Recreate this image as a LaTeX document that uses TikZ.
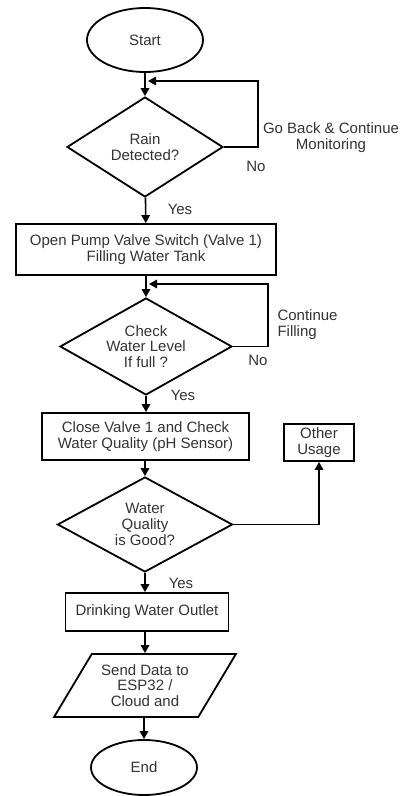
\documentclass[tikz,border=0pt]{standalone}
\usepackage{fontspec}
\setmainfont{Liberation Sans}
\usetikzlibrary{shapes.geometric,arrows.meta}
\begin{document}
\begin{tikzpicture}[x=1pt,y=-1pt,
  every node/.style={font=\fontsize{15}{15.8}\selectfont, text=black!80},
  shp/.style={draw=black, line width=1.8pt, inner sep=0pt, align=center},
  term/.style={shp, ellipse},
  proc/.style={shp, rectangle},
  dec/.style={shp, diamond, aspect=1.8},
  io/.style={shp, trapezium, trapezium left angle=54, trapezium right angle=126, trapezium stretches=true},
  arr/.style={line width=1.6pt, -{Triangle[length=8pt,width=8.5pt]}},
  lbl/.style={align=center}
]
\useasboundingbox (0,0) rectangle (406,796);

\node[term, minimum width=116pt, minimum height=64pt] (start) at (145,40) {Start};
\node[dec, minimum width=156pt, minimum height=100pt] (d1) at (145,147) {Rain\\Detected?};
\node[proc, minimum width=260pt, minimum height=51pt] (b1) at (146,249.5) {Open Pump Valve Switch (Valve 1)\\Filling Water Tank};
\node[dec, minimum width=172pt, minimum height=97pt] (d2) at (146,346.5) {Check\\Water Level\\If full ?};
\node[proc, minimum width=207pt, minimum height=47pt] (b2) at (145.5,436.5) {Close Valve 1 and Check\\Water Quality (pH Sensor)};
\node[proc, minimum width=70pt, minimum height=37pt] (other) at (319,442.5) {Other\\Usage};
\node[dec, minimum width=175pt, minimum height=95pt] (d3) at (145,524.5) {Water\\Quality\\is Good?};
\node[proc, minimum width=163pt, minimum height=38pt] (b3) at (147,612) {Drinking Water Outlet};
\node[io, minimum width=182pt, minimum height=63pt] (io) at (145,685.5) {Send Data to\\ESP32 /\\Cloud and};
\node[term, minimum width=106pt, minimum height=55pt] (end) at (144,767.5) {End};

\coordinate (j1) at (148,81);
\coordinate (j2) at (149,284);

\draw[arr] (start) -- (d1);
\draw[arr] (d1.east) -- ++(34,0) |- (j1);
\draw[arr] (d1) -- (b1);
\draw[arr] (b1.south -| d2.north) -- (d2);
\draw[arr] (d2.east) -- ++(35,0) |- (j2);
\draw[arr] (d2.south) -- (d2.south |- b2.north);
\draw[arr] (b2.south -| d3.north) -- (d3);
\draw[arr] (d3.east) -| (other.south);
\draw[arr] (d3.south) -- (d3.south |- b3.north);
\draw[arr] (b3.south -| io.north) -- (io);
\draw[arr] (io.south -| end.north) -- (end);

\node[lbl] (goback) at (331,138) {Go Back \& Continue\\Monitoring};
\node[lbl] (no1) at (256,166) {No};
\node[lbl] (yes1) at (180,209) {Yes};
\node[align=left, anchor=west] (cont) at (274,325) {Continue\\Filling};
\node[lbl] (no2) at (258,360) {No};
\node[lbl] (yes2) at (183,395) {Yes};
\node[lbl] (yes3) at (181,583) {Yes};
\end{tikzpicture}
\end{document}
